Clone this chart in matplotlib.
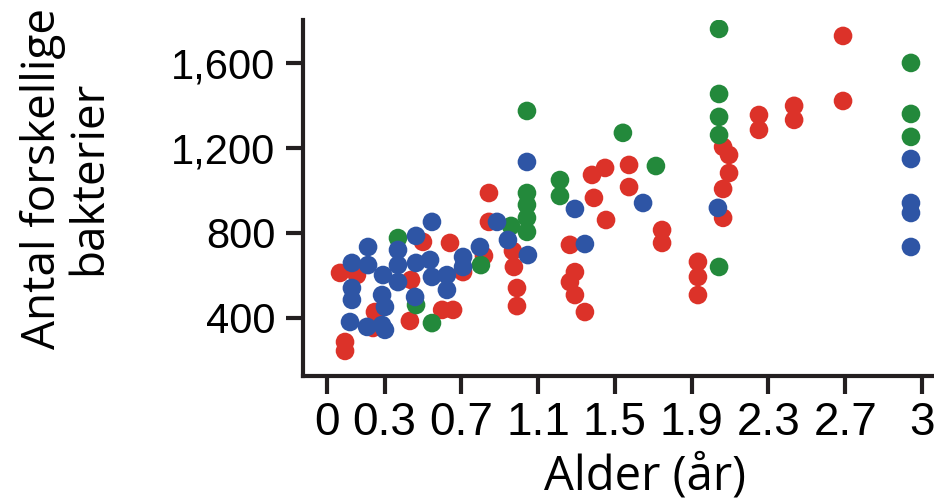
import matplotlib
matplotlib.use("Agg")
import matplotlib.pyplot as plt

# values (age in years, number of distinct bacteria)
red_age = [0.094, 0.094, 0.068, 0.156, 0.25, 0.24, 0.438, 0.432, 0.50, 0.60,
           0.657, 0.641, 0.709, 0.818, 0.844, 0.844, 0.969, 0.974, 0.99, 0.99,
           1.266, 1.292, 1.266, 1.292, 1.344, 1.381, 1.449, 1.391, 1.454, 1.574,
           1.574, 1.746, 1.746, 1.933, 1.933, 1.933, 2.064, 2.095, 2.095, 2.064,
           2.064, 2.251, 2.251, 2.434, 2.434, 2.689, 2.689]
red_count = [287, 245, 612, 602, 428, 353, 579, 386, 758, 438,
             438, 753, 616, 692, 988, 852, 715, 640, 541, 456,
             744, 616, 569, 508, 428, 1073, 1106, 965, 861, 1120,
             1016, 814, 753, 664, 593, 508, 1205, 1167, 1082, 1007,
             871, 1355, 1285, 1398, 1332, 1727, 1421]

green_age = [0.37, 0.464, 0.547, 0.802, 0.959, 1.042, 1.042, 1.042, 1.042, 1.042,
             1.214, 1.214, 1.542, 1.714, 2.043, 2.043, 2.043, 2.043, 2.043,
             3.043, 3.043, 3.043]
green_count = [776, 461, 376, 649, 833, 1374, 988, 932, 871, 805,
               1049, 974, 1271, 1115, 1760, 1454, 1346, 1261, 640,
               1600, 1360, 1252]

blue_age = [0.12, 0.13, 0.13, 0.13, 0.214, 0.214, 0.209, 0.292, 0.287, 0.302,
            0.287, 0.302, 0.37, 0.37, 0.37, 0.464, 0.464, 0.459, 0.547, 0.537,
            0.547, 0.625, 0.625, 0.709, 0.709, 0.797, 0.886, 0.943, 1.047, 1.042,
            1.292, 1.344, 1.647, 2.037, 3.043, 3.043, 3.043, 3.043]
blue_count = [381, 659, 541, 485, 734, 649, 358, 602, 508, 452,
              367, 344, 720, 649, 569, 786, 659, 499, 852, 673,
              593, 602, 532, 687, 640, 734, 852, 767, 696, 1134,
              913, 748, 941, 918, 1148, 941, 894, 734]

x_ticks = [0, 0.3, 0.7, 1.1, 1.5, 1.9, 2.3, 2.7, 3.1]
x_labels = ["0", "0.3", "0.7", "1.1", "1.5", "1.9", "2.3", "2.7", "3"]
y_ticks = [400, 800, 1200, 1600]
y_labels = ["400", "800", "1,200", "1,600"]

fig = plt.figure(figsize=(9.34, 5.04), dpi=100)
ax = fig.add_axes([303 / 934, 128 / 504, 1 - 303 / 934, 356 / 504])

ax.scatter(red_age, red_count, s=180, color="#dc3229", edgecolors="none")
ax.scatter(green_age, green_count, s=180, color="#23893b", edgecolors="none")
ax.scatter(blue_age, blue_count, s=180, color="#2e55a5", edgecolors="none")

ax.set_xlim(-0.125, 3.163)
ax.set_ylim(127, 1802)

for side in ["top", "right"]:
    ax.spines[side].set_visible(False)
for side in ["left", "bottom"]:
    ax.spines[side].set_linewidth(3)
    ax.spines[side].set_color("#231f20")

ax.set_xticks(x_ticks)
ax.set_xticklabels(x_labels, family=["Liberation Sans Narrow", "Liberation Sans"], fontsize=33)
ax.set_yticks(y_ticks)
ax.set_yticklabels(y_labels, family="Liberation Sans", fontsize=30)
ax.tick_params(axis="x", length=13, width=3, pad=5, color="#231f20")
ax.tick_params(axis="y", length=12, width=3, pad=8, color="#231f20")

fig.text(645 / 934, 1 - 477 / 504, "Alder (år)", fontsize=34, family="Open Sans",
         ha="center", va="center")
fig.text(66 / 934, 1 - 178 / 504, "Antal forskellige\nbakterier", fontsize=33,
         family="Open Sans", ha="center", va="center", rotation=90,
         multialignment="center", linespacing=1.0)

fig.savefig("out.png", dpi=100)
